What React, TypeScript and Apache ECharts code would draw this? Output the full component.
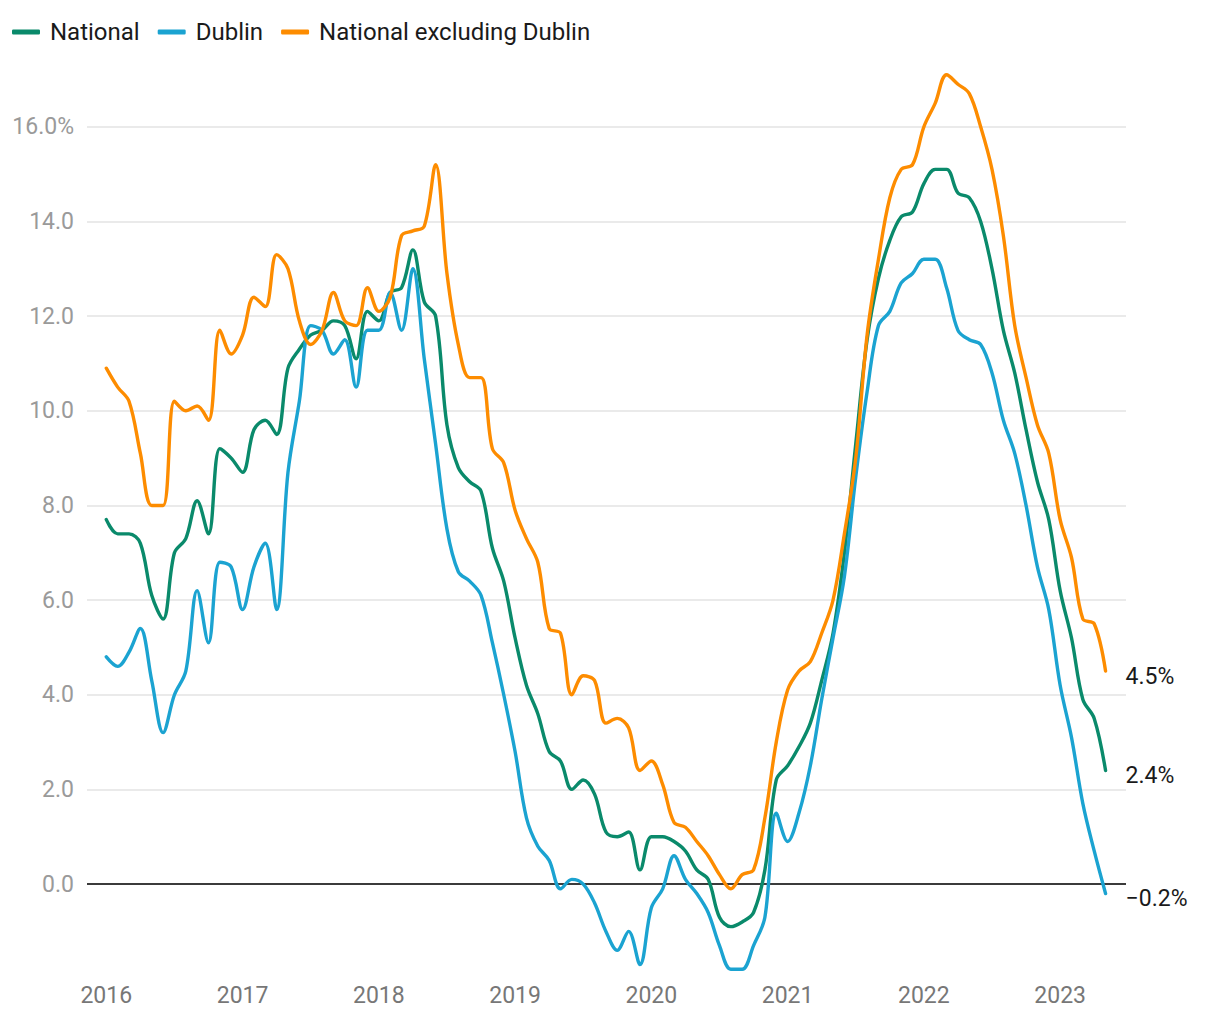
import React, { useEffect, useRef } from 'react';
import * as echarts from 'echarts';

const seriesNames = ['National', 'Dublin', 'National excluding Dublin'];
const seriesColors = ['#0a8a6b', '#1ba3d1', '#fd8c00'];

// Monthly annual change (%), Jan 2016 .. May 2023
const national = [
  7.7, 7.4, 7.4, 7.2, 6.1, 5.6, 7.0, 7.3, 8.1, 7.4, 9.2, 9.0,
  8.7, 9.6, 9.8, 9.5, 10.9, 11.3, 11.6, 11.7, 11.9, 11.8, 11.1, 12.1,
  11.9, 12.5, 12.6, 13.4, 12.3, 12.0, 9.7, 8.8, 8.5, 8.3, 7.1, 6.4,
  5.2, 4.2, 3.6, 2.8, 2.6, 2.0, 2.2, 1.9, 1.1, 1.0, 1.1, 0.3,
  1.0, 1.0, 0.9, 0.7, 0.3, 0.1, -0.7, -0.9, -0.8, -0.6, 0.3, 2.2,
  2.5, 2.9, 3.4, 4.3, 5.3, 7.0, 9.3, 11.5, 12.8, 13.6, 14.1, 14.2,
  14.8, 15.1, 15.1, 14.6, 14.5, 14.0, 13.0, 11.7, 10.8, 9.6, 8.5, 7.7,
  6.2, 5.2, 3.9, 3.5, 2.4,
];
const dublin = [
  4.8, 4.6, 4.9, 5.4, 4.3, 3.2, 4.0, 4.5, 6.2, 5.1, 6.8, 6.7,
  5.8, 6.7, 7.2, 5.8, 8.7, 10.2, 11.8, 11.7, 11.2, 11.5, 10.5, 11.7,
  11.7, 12.5, 11.7, 13.0, 11.1, 9.3, 7.5, 6.6, 6.4, 6.1, 5.1, 4.0,
  2.8, 1.4, 0.8, 0.5, -0.1, 0.1, 0.0, -0.4, -1.0, -1.4, -1.0, -1.7,
  -0.5, -0.1, 0.6, 0.1, -0.2, -0.6, -1.3, -1.8, -1.8, -1.3, -0.7, 1.5,
  0.9, 1.5, 2.5, 3.9, 5.2, 6.5, 8.6, 10.4, 11.8, 12.1, 12.7, 12.9,
  13.2, 13.2, 12.6, 11.7, 11.5, 11.4, 10.8, 9.8, 9.1, 8.0, 6.7, 5.8,
  4.2, 3.1, 1.7, 0.7, -0.2,
];
const exDublin = [
  10.9, 10.5, 10.2, 9.1, 8.0, 8.0, 10.2, 10.0, 10.1, 9.8, 11.7, 11.2,
  11.6, 12.4, 12.2, 13.3, 13.0, 11.9, 11.4, 11.7, 12.5, 11.9, 11.8, 12.6,
  12.1, 12.4, 13.7, 13.8, 13.9, 15.2, 12.9, 11.4, 10.7, 10.7, 9.2, 8.9,
  7.9, 7.3, 6.8, 5.4, 5.3, 4.0, 4.4, 4.3, 3.4, 3.5, 3.3, 2.4,
  2.6, 2.1, 1.3, 1.2, 0.9, 0.6, 0.2, -0.1, 0.2, 0.3, 1.4, 3.0,
  4.1, 4.5, 4.7, 5.3, 6.0, 7.4, 9.0, 11.6, 13.2, 14.5, 15.1, 15.2,
  16.0, 16.5, 17.1, 16.9, 16.7, 16.0, 15.1, 13.7, 11.8, 10.7, 9.7, 9.1,
  7.7, 6.9, 5.6, 5.5, 4.5,
];

const yearLabels = ['2016', '2017', '2018', '2019', '2020', '2021', '2022', '2023'];
const yearTickMonths = [0, 12, 24, 36, 48, 60, 72, 84];
const yTickValues = [0, 2, 4, 6, 8, 10, 12, 14, 16];

const FONT = 'Roboto, "Noto Sans", sans-serif';

function fmtEnd(v: number) {
  const s = Math.abs(v).toFixed(1) + '%';
  return v < 0 ? '\u2212' + s : s;
}

export default function App() {
  const ref = useRef<HTMLDivElement>(null);
  useEffect(() => {
    document.body.style.margin = '0';
    const chart = echarts.init(ref.current!, undefined, { renderer: 'svg' });
    const allData = [national, dublin, exDublin];
    const series: any[] = allData.map((arr, k) => ({
      name: seriesNames[k],
      type: 'line',
      data: arr.map((v, i) => [i, v]),
      showSymbol: false,
      symbol: 'none',
      smooth: 0.35,
      z: 3,
      lineStyle: { color: seriesColors[k], width: 3.4, cap: 'round', join: 'round' },
      itemStyle: { color: seriesColors[k] },
      endLabel: {
        show: true,
        distance: 20,
        offset: [0, 5],
        color: '#1a1a1a',
        fontFamily: FONT,
        fontSize: 23,
        formatter: (p: any) => fmtEnd(p.value[1]),
      },
    }));
    series[0].markLine = {
      silent: true,
      symbol: ['none', 'none'],
      z: 2,
      label: { show: false },
      lineStyle: { color: '#000', width: 1.6, type: 'solid' },
      data: [{ yAxis: 0 }],
    };
    chart.setOption({
      animation: false,
      backgroundColor: '#ffffff',
      textStyle: { fontFamily: FONT },
      legend: {
        left: 7,
        top: 13,
        itemWidth: 28,
        itemHeight: 5,
        itemGap: 18,
        icon: 'roundRect',
        selectedMode: false,
        data: seriesNames,
        textStyle: {
          fontFamily: FONT,
          fontSize: 24,
          color: '#1a1a1a',
          padding: [0, 0, 0, 5],
          lineHeight: 28,
        },
      },
      grid: { left: 87, right: 94, top: 70, bottom: 46, containLabel: false },
      xAxis: {
        type: 'value',
        min: -1.7,
        max: 89.8,
        axisLine: { show: false },
        axisTick: { show: false },
        splitLine: { show: false },
        axisLabel: {
          customValues: yearTickMonths,
          formatter: (v: number) => yearLabels[Math.round(v / 12)] ?? '',
          color: '#777777',
          fontFamily: FONT,
          fontSize: 23,
          margin: 10,
        },
      },
      yAxis: {
        type: 'value',
        min: -1.9,
        max: 17.2,
        axisLine: { show: false },
        axisTick: { show: false, customValues: yTickValues },
        splitLine: { show: true, lineStyle: { color: '#e3e3e3', width: 1.5 } },
        axisLabel: {
          customValues: yTickValues,
          formatter: (v: number) => (v === 16 ? v.toFixed(1) + '%' : v.toFixed(1)),
          color: '#9a9a9a',
          fontFamily: FONT,
          fontSize: 23,
          margin: 13,
        },
      },
      series,
    });
    return () => chart.dispose();
  }, []);
  return <div ref={ref} style={{ width: 1220, height: 1020 }} />;
}
